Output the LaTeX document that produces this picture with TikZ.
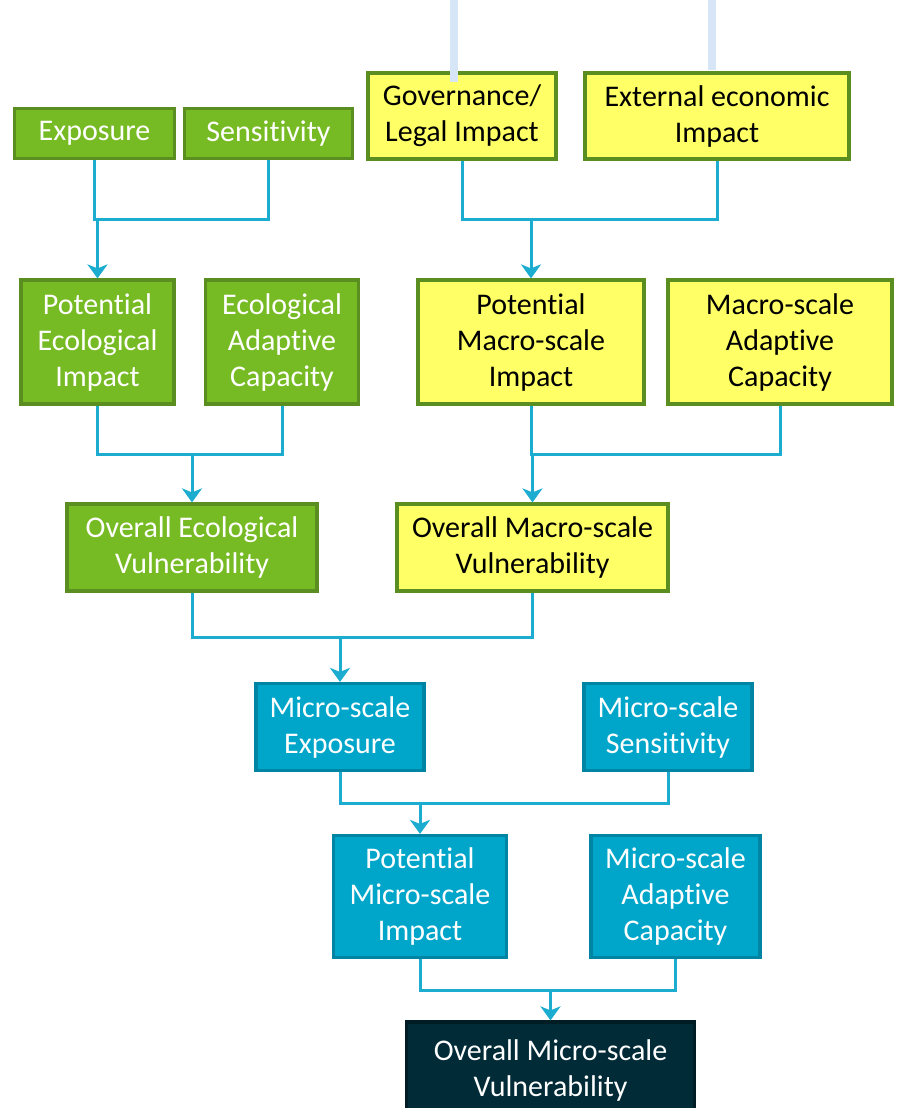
\documentclass[tikz,border=0pt]{standalone}
\usepackage{fontspec}
\setmainfont{Carlito}[Ligatures={NoCommon,NoContextual,NoRare}]
\usetikzlibrary{arrows.meta,positioning,calc}
\definecolor{ecogreen}{RGB}{119,187,36}
\definecolor{ecoedge}{RGB}{90,142,32}
\definecolor{macroyel}{RGB}{255,255,102}
\definecolor{microblue}{RGB}{0,166,202}
\definecolor{microedge}{RGB}{0,132,164}
\definecolor{deepteal}{RGB}{1,43,54}
\definecolor{deepedge}{RGB}{0,28,36}
\definecolor{linkblue}{RGB}{27,172,208}
\definecolor{barblue}{RGB}{214,230,246}
\tikzset{
  box/.style={rectangle, line width=1.6pt, align=center, inner sep=2pt,
              font=\fontsize{15}{18}\selectfont},
  eco/.style={box, draw=ecoedge, fill=ecogreen, text=white},
  mac/.style={box, draw=ecoedge, fill=macroyel, text=black},
  mic/.style={box, draw=microedge, fill=microblue, text=white},
  fin/.style={box, draw=deepedge, fill=deepteal, text=white},
  link/.style={linkblue, line width=1.5pt},
  linkarr/.style={link, -{Stealth[length=7pt,width=10pt,inset=2pt]}},
  bar/.style={barblue, line width=4pt},
}
\begin{document}
\begin{tikzpicture}[x=0.5pt, y=-0.5pt]
  \useasboundingbox (0,0) rectangle (897,1108);
  % top row
  \node[eco, minimum width=80pt, minimum height=25pt] (expo) at (94.5,133.5) {Exposure};
  \node[eco, minimum width=84pt, minimum height=25pt] (sens) at (268.5,133.5) {Sensitivity};
  \node[mac, minimum width=94pt, minimum height=43pt] (gov) at (462,116) {Governance/\\Legal Impact};
  \node[mac, minimum width=132pt, minimum height=43pt] (ext) at (717,116) {External economic\\Impact};
  % second row
  \node[eco, minimum width=76.5pt, minimum height=62pt] (pei) at (97.5,342) {Potential\\Ecological\\Impact};
  \node[eco, minimum width=76.5pt, minimum height=62pt] (eac) at (282,342) {Ecological\\Adaptive\\Capacity};
  \node[mac, minimum width=113pt, minimum height=62pt] (pmi) at (531,342) {Potential\\Macro-scale\\Impact};
  \node[mac, minimum width=112pt, minimum height=62pt] (mac) at (780,342) {Macro-scale\\Adaptive\\Capacity};
  % overall ecological / macro
  \node[eco, minimum width=125pt, minimum height=43.5pt] (oev) at (192,547.5) {Overall Ecological\\Vulnerability};
  \node[mac, minimum width=135.5pt, minimum height=43.5pt] (omv) at (532.5,547.5) {Overall Macro-scale\\Vulnerability};
  % micro scale
  \node[mic, minimum width=84pt, minimum height=43.5pt] (mse) at (340,727) {Micro-scale\\Exposure};
  \node[mic, minimum width=84pt, minimum height=43.5pt] (mss) at (668,727) {Micro-scale\\Sensitivity};
  \node[mic, minimum width=86.5pt, minimum height=61pt] (pmsi) at (420,896.5) {Potential\\Micro-scale\\Impact};
  \node[mic, minimum width=84.5pt, minimum height=61pt] (msac) at (675.5,896.5) {Micro-scale\\Adaptive\\Capacity};
  \node[fin, minimum width=144pt, minimum height=46pt, text depth=0pt] (omsv) at (550.5,1068) {Overall Micro-scale\\Vulnerability};
  % junctions
  \coordinate (j1) at (0,219);
  \coordinate (j2) at (0,454);
  \coordinate (j3) at (0,637);
  \coordinate (j4) at (0,803);
  \coordinate (j5) at (0,990);
  % connectors
  \draw[link] (expo.south) |- (sens.south |- j1) -- (sens.south);
  \draw[linkarr] (pei.north |- j1) -- (pei.north);
  \draw[link] (gov.south) |- (ext.south |- j1) -- (ext.south);
  \draw[linkarr] (pmi.north |- j1) -- (pmi.north);
  \draw[link] (pei.south) |- (eac.south |- j2) -- (eac.south);
  \draw[linkarr] (oev.north |- j2) -- (oev.north);
  \draw[link] (pmi.south) |- (mac.south |- j2) -- (mac.south);
  \draw[linkarr] (omv.north |- j2) -- (omv.north);
  \draw[link] (oev.south) |- (omv.south |- j3) -- (omv.south);
  \draw[linkarr] (mse.north |- j3) -- (mse.north);
  \draw[link] (mse.south) |- (mss.south |- j4) -- (mss.south);
  \draw[linkarr] (pmsi.north |- j4) -- (pmsi.north);
  \draw[link] (pmsi.south) |- (msac.south |- j5) -- (msac.south);
  \draw[linkarr] (omsv.north |- j5) -- (omsv.north);
  % pale bars at the top
  \draw[bar] (454,0) -- (454,82);
  \draw[bar] (712,0) -- (712,70);
\end{tikzpicture}
\end{document}
